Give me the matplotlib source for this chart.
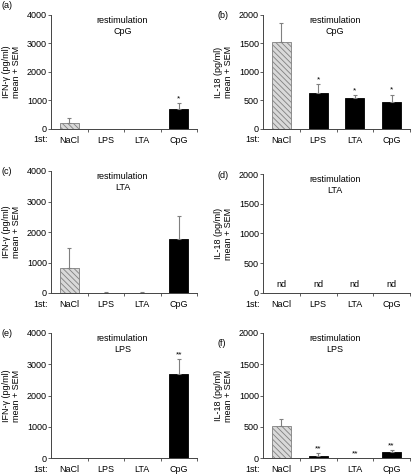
import numpy as np
import matplotlib
matplotlib.use("Agg")
import matplotlib.pyplot as plt

plt.rcParams['font.family'] = ['Liberation Sans', 'DejaVu Sans']
plt.rcParams['hatch.linewidth'] = 0.6

first = ["NaCl", "LPS", "LTA", "CpG"]

# IFN-gamma (pg/ml), mean and SEM
ifn_cpg = [210, 0, 0, 700]
ifn_cpg_sem = [190, 0, 0, 210]
ifn_lta = [810, 10, 15, 1785]
ifn_lta_sem = [650, 10, 15, 755]
ifn_lps = [12, 5, 0, 2690]
ifn_lps_sem = [0, 0, 0, 490]

# IL-18 (pg/ml), mean and SEM
il18_cpg = [1530, 635, 545, 480]
il18_cpg_sem = [335, 150, 45, 125]
il18_lps = [515, 40, 0, 92]
il18_lps_sem = [115, 38, 0, 40]

stars_a = ["", "", "", "*"]
stars_b = ["", "*", "*", "*"]
stars_e = ["", "", "", "**"]
stars_f = ["", "**", "**", "**"]

W, H = 413, 476
fig = plt.figure(figsize=(W / 100, H / 100), dpi=100)
FS = 6.5
GREY = "#808080"


def make_ax(x0, x1, top, bottom):
    return fig.add_axes([x0 / W, 1 - bottom / H, (x1 - x0) / W, (bottom - top) / H])


def panel(ax, letter, lx, ly, restim, ylabel, ymax, ystep, means=None, sem=None, stars=None, nd=False):
    x = np.arange(len(first))
    if means is not None:
        colors = ["#d9d9d9"] + ["black"] * 3
        edges = [GREY] + ["black"] * 3
        bars = ax.bar(x, means, width=0.52, color=colors, edgecolor=edges, linewidth=0.6)
        bars[0].set_hatch("\\\\\\\\\\\\")
        s = np.array(sem, dtype=float)
        m = np.array(means, dtype=float)
        keep = s > 0
        ax.errorbar(x[keep], m[keep], yerr=[np.zeros(keep.sum()), s[keep]], fmt="none",
                    ecolor=GREY, elinewidth=0.8, capsize=1.5, capthick=0.8, zorder=1)
        if stars:
            for xi, mi, si, st in zip(x, m, s, stars):
                if st:
                    ax.annotate(st, (xi, mi + si), xytext=(0, 0.5), textcoords="offset points",
                                ha="center", va="bottom", fontsize=6)
    if nd:
        for xi in x:
            ax.annotate("nd", (xi, 0), xytext=(0, 3), textcoords="offset points",
                        ha="center", va="bottom", fontsize=FS)

    ax.set_xlim(-0.5, 3.5)
    ax.set_ylim(0, ymax)
    ax.set_yticks(np.arange(0, ymax + 1, ystep))
    ax.set_xticks(x)
    ax.set_xticklabels(first, fontsize=FS)
    ax.set_xticks([0.5, 1.5, 2.5, 3.5], minor=True)
    ax.tick_params(axis="x", which="major", length=0, pad=5)
    ax.tick_params(axis="x", which="minor", length=2.5, width=0.6, direction="out", color="#444")
    ax.tick_params(axis="y", length=2, width=0.6, labelsize=FS, pad=1, color="#444")
    for sp in ["top", "right"]:
        ax.spines[sp].set_visible(False)
    for sp in ["left", "bottom"]:
        ax.spines[sp].set_linewidth(0.7)
        ax.spines[sp].set_color("#444")
    ax.set_ylabel(ylabel, fontsize=FS, labelpad=4, linespacing=1.15)
    ax.text(0.49, 0.99, "restimulation\n" + restim, transform=ax.transAxes,
            ha="center", va="top", fontsize=FS, linespacing=1.3)
    ax.text(-0.02, -0.055, "1st:", transform=ax.transAxes, ha="right", va="top", fontsize=FS)
    fig.text(lx / W, 1 - ly / H, "(" + letter + ")", ha="left", va="center", fontsize=FS)


ifn_lab = "IFN-\u03b3 (pg/ml)\nmean + SEM"
il_lab = "IL-18 (pg/ml)\nmean + SEM"

ax_a = make_ax(51, 197, 15, 129)
ax_b = make_ax(263, 410, 15, 129)
ax_c = make_ax(51, 197, 171, 293)
ax_d = make_ax(263, 410, 174, 293)
ax_e = make_ax(51, 197, 333, 458)
ax_f = make_ax(263, 410, 333, 458)

panel(ax_a, "a", 1, 6, "CpG", ifn_lab, 4000, 1000, ifn_cpg, ifn_cpg_sem, stars_a)
panel(ax_b, "b", 217, 15, "CpG", il_lab, 2000, 500, il18_cpg, il18_cpg_sem, stars_b)
panel(ax_c, "c", 1, 172, "LTA", ifn_lab, 4000, 1000, ifn_lta, ifn_lta_sem)
panel(ax_d, "d", 217, 175, "LTA", il_lab, 2000, 500, nd=True)
panel(ax_e, "e", 1, 334, "LPS", ifn_lab, 4000, 1000, ifn_lps, ifn_lps_sem, stars_e)
panel(ax_f, "f", 217, 343, "LPS", il_lab, 2000, 500, il18_lps, il18_lps_sem, stars_f)

fig.savefig("out.png", dpi=100)
